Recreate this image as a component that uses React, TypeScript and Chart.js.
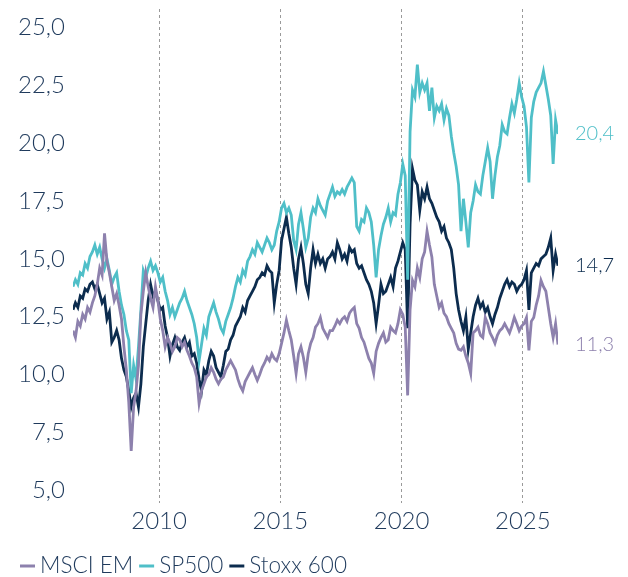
import React, { useEffect, useRef } from "react";
import { Chart, registerables } from "chart.js";

Chart.register(...registerables);

// ---- data ----
const seriesNames = ["MSCI EM", "SP500", "Stoxx 600"];
const startYear = 2006.45; // first observation (decimal year)
const stepYears = 0.1; // spacing between observations

const msciEm = [
  11.9, 11.6, 12.3, 12.1, 12.6, 12.4, 12.9, 12.7, 13.1, 13.4,
  13.9, 14.6, 14.3, 16.1, 14.9, 14.4, 13.8, 13.2, 13.5, 13.0,
  12.4, 11.2, 10.2, 8.8, 6.7, 8.6, 9.3, 10.4, 12.6, 13.6,
  14.4, 13.8, 13.3, 12.9, 13.8, 13.2, 12.4, 11.9, 11.2, 11.6,
  11.35, 11.0, 11.2, 11.6, 11.5, 11.2, 11.4, 11.05, 10.8, 10.5,
  10.3, 9.9, 8.75, 9.3, 9.6, 9.9, 10.0, 10.3, 10.1, 9.8,
  9.6, 9.8, 9.9, 10.2, 10.4, 10.6, 10.4, 10.2, 9.8, 9.5,
  9.3, 9.7, 9.9, 10.1, 10.3, 10.0, 9.75, 10.0, 10.3, 10.5,
  10.75, 10.6, 10.9, 10.7, 10.6, 10.9, 11.35, 11.8, 12.35, 11.9,
  11.5, 10.8, 10.05, 10.9, 11.2, 10.75, 10.1, 10.9, 11.35, 11.6,
  12.05, 12.2, 12.47, 12.0, 11.8, 11.6, 11.9, 11.9, 12.1, 12.35,
  12.2, 12.4, 12.5, 12.3, 12.65, 12.8, 12.9, 12.2, 12.0, 11.6,
  11.4, 11.05, 10.7, 10.5, 10.05, 11.0, 11.35, 11.6, 11.8, 11.4,
  11.5, 12.05, 11.9, 11.8, 12.2, 12.8, 12.6, 12.05, 9.1, 12.8,
  14.07, 13.8, 14.6, 14.2, 15.0, 15.3, 16.2, 15.6, 15.07, 13.9,
  13.4, 12.9, 13.1, 12.65, 12.5, 12.2, 12.0, 11.8, 11.35, 11.1,
  11.05, 11.2, 10.8, 10.5, 10.05, 11.8, 11.9, 12.05, 11.7, 11.6,
  12.47, 12.2, 11.8, 11.6, 11.35, 11.7, 11.9, 12.0, 12.2, 12.0,
  11.8, 12.1, 12.47, 12.2, 11.9, 12.1, 12.2, 12.47, 11.05, 12.3,
  12.47, 13.0, 13.4, 14.07, 13.8, 13.6, 12.9, 12.2, 11.6, 12.2,
  11.3,
];

const sp500 = [
  13.8, 14.1, 13.9, 14.4, 14.3, 14.8, 14.6, 15.1, 15.3, 15.6,
  15.2, 15.5, 15.0, 14.6, 15.0, 14.5, 13.9, 14.2, 14.4, 13.6,
  13.0, 12.6, 11.9, 11.5, 9.2, 10.4, 9.8, 11.2, 12.8, 14.5,
  14.2, 14.6, 14.9, 14.5, 14.7, 14.4, 14.0, 14.2, 13.6, 13.2,
  12.6, 12.9, 12.5, 12.8, 13.1, 13.3, 13.6, 13.2, 12.9, 12.6,
  12.2, 11.6, 10.6, 11.3, 12.0, 11.7, 12.5, 12.8, 13.1, 12.7,
  12.4, 12.0, 11.8, 12.3, 12.6, 12.9, 13.3, 13.8, 14.2, 14.0,
  14.5, 14.3, 14.9, 15.1, 15.4, 15.2, 15.7, 15.5, 15.3, 15.6,
  15.9, 15.7, 15.4, 15.6, 16.2, 16.6, 17.2, 17.4, 17.0, 17.2,
  16.9, 15.8, 15.4, 16.5, 17.0, 16.3, 15.5, 15.9, 16.8, 17.2,
  17.0, 17.6, 17.3, 17.1, 16.9, 17.5, 17.8, 18.1, 17.7, 17.9,
  17.8, 18.0, 17.8, 18.1, 18.3, 18.5, 18.3, 16.4, 16.2, 16.7,
  16.6, 17.2, 17.0, 16.6, 15.6, 14.2, 15.4, 16.0, 16.5, 16.8,
  17.2, 16.6, 17.0, 16.9, 17.8, 18.3, 19.1, 18.6, 14.1, 20.5,
  22.3, 22.0, 23.4, 22.2, 22.6, 22.3, 22.6, 21.4, 22.4, 21.1,
  21.6, 21.4, 21.7, 21.0, 21.5, 21.2, 20.3, 19.6, 19.0, 18.2,
  16.2, 17.6, 16.6, 15.5, 17.0, 17.5, 18.2, 17.9, 17.8, 18.6,
  19.2, 19.8, 19.2, 17.6, 18.6, 19.4, 19.9, 20.8, 20.5, 20.4,
  21.1, 21.7, 21.3, 21.9, 22.6, 22.0, 21.6, 20.7, 18.3, 21.1,
  21.8, 22.2, 22.4, 22.6, 23.1, 22.5, 21.9, 21.2, 19.1, 21.0,
  20.4,
];

const stoxx600 = [
  12.8, 13.1, 12.9, 13.4, 13.3, 13.7, 13.6, 13.9, 14.0, 13.7,
  13.9, 13.5, 13.1, 13.3, 12.4, 12.7, 11.4, 11.6, 11.9, 11.5,
  10.7, 10.2, 9.9, 9.3, 8.6, 9.0, 9.2, 8.6, 9.6, 11.2,
  12.2, 13.2, 13.9, 13.4, 13.6, 13.2, 12.8, 12.9, 12.1, 11.6,
  10.8, 11.3, 11.6, 11.2, 11.05, 11.4, 11.6, 11.2, 11.4, 10.8,
  10.9, 10.5, 9.8, 9.3, 10.2, 10.0, 10.6, 11.0, 10.8, 10.3,
  10.1, 9.9, 10.4, 11.0, 11.1, 11.5, 11.7, 12.1, 12.3, 12.5,
  12.9, 12.7, 13.2, 13.4, 13.6, 13.8, 14.1, 14.2, 14.4, 14.3,
  14.7, 14.5, 14.4, 13.1, 13.9, 14.5, 15.8, 16.3, 16.8, 16.1,
  15.5, 14.6, 13.9, 15.0, 15.5, 14.8, 13.9, 13.5, 14.6, 15.4,
  14.8, 15.2, 14.8, 15.0, 14.6, 15.0, 15.1, 15.3, 15.0, 15.7,
  15.4, 15.0, 15.2, 14.9, 15.5, 15.3, 15.4, 14.8, 14.6, 14.7,
  14.4, 14.1, 13.9, 13.6, 13.1, 12.2, 13.0, 13.9, 13.5, 13.6,
  13.9, 14.2, 13.8, 14.6, 14.9, 15.3, 15.7, 15.4, 12.0, 16.5,
  18.9, 18.4, 18.2, 17.1, 17.9, 17.6, 18.1, 17.6, 17.4, 17.1,
  16.8, 16.6, 16.2, 16.4, 15.9, 15.7, 15.4, 14.6, 13.5, 12.8,
  12.3, 11.9, 12.5, 11.1, 11.8, 12.5, 13.0, 13.3, 12.9, 13.1,
  12.7, 12.9, 12.5, 12.2, 12.6, 12.9, 13.3, 13.6, 13.9, 14.1,
  13.8, 14.0, 13.9, 13.6, 13.8, 13.9, 14.1, 14.5, 12.8, 14.4,
  14.6, 14.8, 14.7, 15.0, 15.1, 15.2, 15.5, 15.9, 14.5, 15.2,
  14.7,
];

const xTicks = [2010, 2015, 2020, 2025];
const yTicks = [5, 7.5, 10, 12.5, 15, 17.5, 20, 22.5, 25];

// ---- style ----
const colors = ["#8d81ad", "#4fbfc8", "#0c2c4e"];
const textColor = "#1f3a5c";
const FONT = "Lato, 'Open Sans', sans-serif";

const fmt = (v: number) => v.toFixed(1).replace(".", ",");
const toPoints = (arr: number[]) =>
  arr.map((y, i) => ({ x: startYear + i * stepYears, y }));

const overlayPlugin = {
  id: "overlay",
  afterDatasetsDraw(chart: any) {
    const ctx = chart.ctx as CanvasRenderingContext2D;
    const xs = chart.scales.x;
    const ys = chart.scales.y;
    ctx.save();
    ctx.textAlign = "left";
    ctx.textBaseline = "middle";
    // end-of-line value labels
    ctx.font = `300 20px ${FONT}`;
    chart.data.datasets.forEach((ds: any, i: number) => {
      const last = ds.data[ds.data.length - 1];
      ctx.fillStyle = colors[i];
      ctx.fillText(
        fmt(last.y),
        xs.getPixelForValue(last.x) + 17,
        ys.getPixelForValue(last.y)
      );
    });
    // legend
    ctx.font = `300 22.5px ${FONT}`;
    let x = 20;
    const y = chart.height - 11;
    chart.data.datasets.forEach((ds: any, i: number) => {
      ctx.strokeStyle = colors[i];
      ctx.lineWidth = 3;
      ctx.beginPath();
      ctx.moveTo(x, y);
      ctx.lineTo(x + 15, y);
      ctx.stroke();
      ctx.fillStyle = textColor;
      ctx.fillText(ds.label, x + 20, y);
      x += 20 + ctx.measureText(ds.label).width + 6;
    });
    ctx.restore();
  },
};

export default function App() {
  const ref = useRef<HTMLCanvasElement | null>(null);

  useEffect(() => {
    if (!ref.current) return;
    const seriesValues = [msciEm, sp500, stoxx600];
    const chart = new Chart(ref.current, {
      type: "line",
      data: {
        datasets: seriesNames.map((name, i) => ({
          label: name,
          data: toPoints(seriesValues[i]),
          borderColor: colors[i],
          backgroundColor: colors[i],
          borderWidth: 2.8,
          pointRadius: 0,
          tension: 0,
          fill: false,
        })),
      },
      options: {
        responsive: false,
        animation: false,
        layout: { padding: { left: 10, right: 70, top: 9, bottom: 44 } },
        plugins: {
          legend: { display: false },
          tooltip: { enabled: false },
        },
        scales: {
          x: {
            type: "linear",
            min: startYear,
            max: startYear + (sp500.length - 1) * stepYears,
            afterBuildTicks: (s: any) => {
              s.ticks = xTicks.map((v) => ({ value: v }));
            },
            afterFit: (s: any) => {
              s.height = 30;
              s.paddingLeft = 0;
              s.paddingRight = 0;
            },
            ticks: {
              callback: (v: any) => String(v),
              color: textColor,
              font: { family: FONT, size: 24, weight: "300" },
              padding: 4,
              maxRotation: 0,
            },
            grid: {
              display: true,
              drawTicks: false,
              color: "#9a9a9a",
              lineWidth: 1,
            },
            border: { display: false, dash: [3, 3] },
          },
          y: {
            type: "linear",
            min: 4.45,
            max: 25.8,
            afterBuildTicks: (s: any) => {
              s.ticks = yTicks.map((v) => ({ value: v }));
            },
            afterFit: (s: any) => {
              s.width = 63;
              s.paddingTop = 0;
              s.paddingBottom = 0;
            },
            ticks: {
              callback: (v: any) => fmt(Number(v)),
              color: textColor,
              font: { family: FONT, size: 24, weight: "300" },
              padding: 8,
            },
            grid: { display: false, drawTicks: false },
            border: { display: false },
          },
        },
      },
      plugins: [overlayPlugin],
    } as any);
    return () => chart.destroy();
  }, []);

  return (
    <canvas
      ref={ref}
      width={628}
      height={577}
      style={{ position: "fixed", left: 0, top: 0, display: "block" }}
    />
  );
}
